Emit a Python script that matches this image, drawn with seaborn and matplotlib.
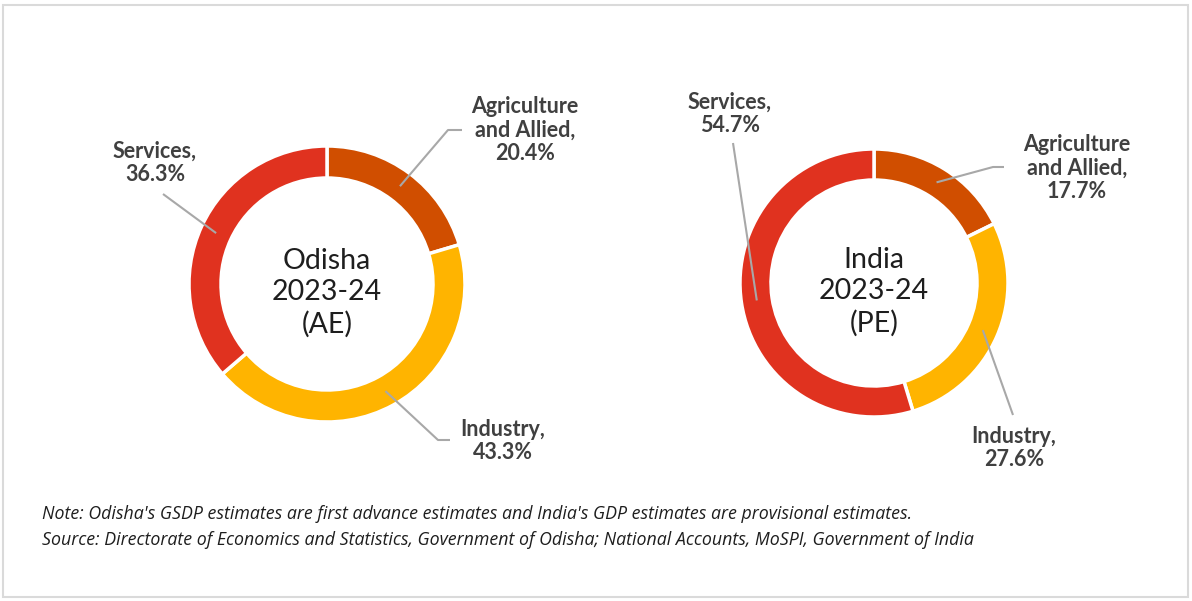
import numpy as np
import matplotlib.pyplot as plt
import seaborn as sns
from matplotlib.patches import Rectangle

sectors = ["Agriculture\nand Allied", "Industry", "Services"]
odisha_share = [20.4, 43.3, 36.3]
india_share = [17.7, 27.6, 54.7]
centre_titles = ["Odisha\n2023-24\n(AE)", "India\n2023-24\n(PE)"]
sector_colors = ["#D04E00", "#FFB400", "#E0321F"]
note_lines = [
    "Note: Odisha's GSDP estimates are first advance estimates and India's GDP estimates are provisional estimates.",
    "Source: Directorate of Economics and Statistics, Government of Odisha; National Accounts, MoSPI, Government of India",
]

W, H = 1192, 601
sns.set_theme(style="white")
plt.rcParams["font.family"] = ["Lato", "DejaVu Sans"]

fig = plt.figure(figsize=(W / 100, H / 100), dpi=100)
ax = fig.add_axes([0, 0, 1, 1])

def fy(y):
    # picture rows count down from the top
    return H - y

# donut layout: centre, radius, ring width, and per-sector label layout
donuts = [
    dict(shares=odisha_share, cx=327, cy=284, r=138, w=32,
         labels=[((448, 130), (462, 130), (525, 130)),
                 ((438, 440), (450, 440), (503, 441)),
                 ((163, 194), (163, 194), (155, 163))]),
    dict(shares=india_share, cx=874, cy=283, r=134, w=31,
         labels=[((993, 167), (1004, 167), (1077, 168)),
                 ((1013, 415), (1013, 415), (1014, 448)),
                 ((733, 143), (733, 143), (730, 114))]),
]

for d, title in zip(donuts, centre_titles):
    wedges, _ = ax.pie(d["shares"], colors=sector_colors, startangle=90,
                       counterclock=False, radius=d["r"],
                       center=(d["cx"], fy(d["cy"])),
                       wedgeprops=dict(width=d["w"], edgecolor="white", linewidth=2.5))
    ax.text(d["cx"], fy(d["cy"] + 9), title, ha="center", va="center",
            fontsize=20.5, color="#1E1E1E", linespacing=1.25)
    rm = d["r"] - d["w"] / 2
    for wdg, name, share, (elbow, end, txt) in zip(wedges, sectors, d["shares"], d["labels"]):
        mid = np.deg2rad((wdg.theta1 + wdg.theta2) / 2)
        x0 = d["cx"] + rm * np.cos(mid)
        y0 = fy(d["cy"]) + rm * np.sin(mid)
        ax.plot([x0, elbow[0], end[0]], [y0, fy(elbow[1]), fy(end[1])],
                color="#A8A8A8", lw=1.5, solid_capstyle="butt")
        ax.text(txt[0], fy(txt[1]), f"{name},\n{share}%", ha="center", va="center",
                fontsize=15.5, fontweight="bold", color="#404040", linespacing=1.12)

for i, line in enumerate(note_lines):
    ax.text(42, fy(514 + 26 * i), line, ha="left", va="center",
            fontsize=12.8, fontstyle="italic", color="#1E1E1E",
            family=["Open Sans", "DejaVu Sans"])

# frame round the chart
ax.add_patch(Rectangle((3, fy(597)), W - 7, 592, fill=False, ec="#DADADA", lw=1.5))

# pie() resets the limits, so set them last
ax.set_xlim(0, W)
ax.set_ylim(0, H)
ax.set_aspect("equal")
ax.axis("off")

fig.savefig("out.png", dpi=100)
